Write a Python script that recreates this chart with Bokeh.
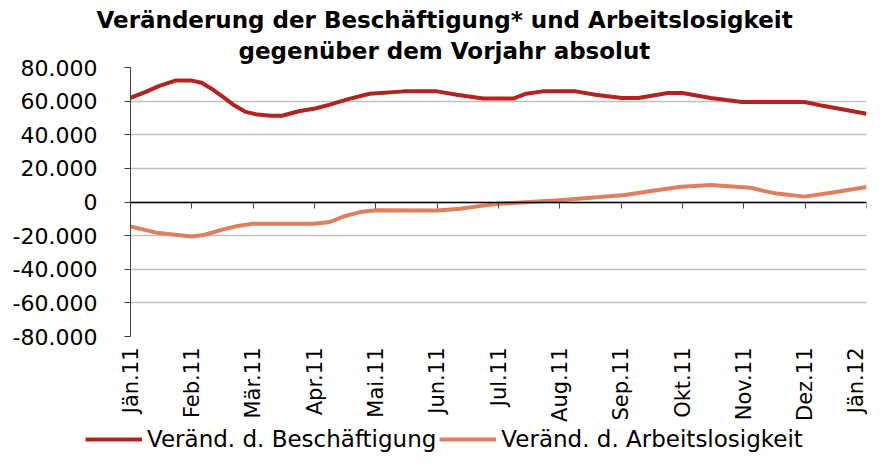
import math
from bokeh.plotting import figure
from bokeh.layouts import column
from bokeh.models import Range1d, FixedTicker, LinearAxis, Legend, LegendItem, Title
from bokeh.embed import file_html
from bokeh.resources import INLINE

# ---- data ----
month_ticks = list(range(13))
month_labels = ["Jän.11", "Feb.11", "Mär.11", "Apr.11", "Mai.11", "Jun.11", "Jul.11",
                "Aug.11", "Sep.11", "Okt.11", "Nov.11", "Dez.11", "Jän.12"]

y_ticks = [-80000, -60000, -40000, -20000, 0, 20000, 40000, 60000, 80000]
y_tick_labels = ["-80.000", "-60.000", "-40.000", "-20.000", "0",
                 "20.000", "40.000", "60.000", "80.000"]

# position in months since Jan 2011
besch_x = [0.0, 0.24, 0.46, 0.73, 1.0, 1.16, 1.32, 1.53, 1.69, 1.88, 2.07, 2.29, 2.47,
           2.74, 3.01, 3.25, 3.58, 3.90, 4.46, 5.0, 5.32, 5.75, 6.24, 6.45, 6.72, 7.26,
           7.58, 8.01, 8.28, 8.76, 9.0, 9.46, 9.97, 10.99, 11.29, 12.0]
besch_y = [62000, 65400, 68900, 72200, 72200, 70900, 67400, 61900, 57500, 53600, 52000,
           51300, 51300, 54000, 55600, 57900, 61500, 64400, 65800, 65800, 63800, 61500,
           61500, 64400, 65800, 65800, 63800, 61900, 61900, 64800, 64800, 61900, 59500,
           59500, 57200, 52500]

alo_x = [0.0, 0.46, 1.0, 1.21, 1.48, 1.75, 1.99, 2.98, 3.25, 3.50, 3.74, 4.0, 5.0, 5.38,
         5.65, 6.0, 6.99, 8.06, 8.49, 8.98, 9.46, 10.11, 10.32, 10.54, 10.99, 11.5, 12.0]
alo_y = [-14600, -18500, -20500, -19500, -16600, -14200, -13000, -13000, -11900, -8300,
         -6000, -4900, -5000, -4000, -2600, -1000, 1100, 4200, 6600, 9100, 10100, 8500,
         6600, 5000, 3200, 6000, 8900]

legend_labels = ["Veränd. d. Beschäftigung", "Veränd. d. Arbeitslosigkeit"]

RED = "#B3241E"
ORANGE = "#E07F5E"
FONT = "DejaVu Sans"

p = figure(width=867, height=424, output_backend="svg", toolbar_location=None, title=None,
           x_range=Range1d(0, 12), y_range=Range1d(-80000, 80000),
           min_border_left=130, min_border_right=1, min_border_bottom=80, min_border_top=67)
p.outline_line_color = None
p.background_fill_color = "white"
p.frame_align = False

# titles (second line added first -> closest to plot)
t2 = Title(text="gegenüber dem  Vorjahr absolut", align="left", offset=108,
           text_font=FONT, text_font_size="23px", text_font_style="bold",
           text_color="black", standoff=7)
p.add_layout(t2, "above")
t1 = Title(text="Veränderung der Beschäftigung* und Arbeitslosigkeit", align="left",
           offset=-34, text_font=FONT, text_font_size="23px", text_font_style="bold",
           text_color="black", standoff=0)
p.add_layout(t1, "above")

# y axis
p.yaxis.ticker = FixedTicker(ticks=y_ticks)
p.yaxis.major_label_overrides = dict(zip(y_ticks, y_tick_labels))
p.yaxis.major_tick_out = 6
p.yaxis.major_tick_in = 0
p.yaxis.minor_tick_line_color = None
p.yaxis.major_label_standoff = 27
p.yaxis.axis_line_color = "#404040"
p.yaxis.major_tick_line_color = "#404040"
p.yaxis.major_label_text_font = FONT
p.yaxis.major_label_text_font_size = "22px"
p.yaxis.major_label_text_color = "black"

p.ygrid.grid_line_color = "#C0C0C0"
p.ygrid.grid_line_width = 1.3
p.xgrid.visible = False

# zero line axis with ticks (no labels)
p.xaxis.fixed_location = 0
p.xaxis.ticker = FixedTicker(ticks=month_ticks)
p.xaxis.major_label_overrides = {t: "" for t in month_ticks}
p.xaxis.major_label_standoff = 0
p.xaxis.major_tick_out = 6
p.xaxis.major_tick_in = 0
p.xaxis.minor_tick_line_color = None
p.xaxis.axis_line_color = "black"
p.xaxis.axis_line_width = 1.5
p.xaxis.major_tick_line_color = "#404040"

# label axis at bottom
lab_axis = LinearAxis(ticker=FixedTicker(ticks=month_ticks),
                      major_label_overrides=dict(zip(month_ticks, month_labels)),
                      axis_line_color=None, major_tick_line_color=None,
                      minor_tick_line_color=None, major_label_orientation=math.pi / 2,
                      major_label_standoff=5, major_label_text_font=FONT,
                      major_label_text_font_size="21px", major_label_text_color="black")
p.add_layout(lab_axis, "below")

p.line(besch_x, besch_y, line_color=RED, line_width=4, line_join="round")
p.line(alo_x, alo_y, line_color=ORANGE, line_width=4, line_join="round")

# legend strip below the chart (its lines lie outside the strip's visible range)
pl = figure(width=867, height=28, output_backend="svg", toolbar_location=None, title=None,
            x_range=Range1d(-20, -19), y_range=Range1d(0, 1),
            min_border_left=85, min_border_right=0, min_border_top=0, min_border_bottom=0,
            x_axis_location=None, y_axis_location=None)
pl.outline_line_color = None
pl.xgrid.visible = False
pl.ygrid.visible = False
pl.frame_align = False
k1 = pl.line(besch_x, besch_y, line_color=RED, line_width=4)
k2 = pl.line(alo_x, alo_y, line_color=ORANGE, line_width=4)
legend = Legend(items=[LegendItem(label=legend_labels[0], renderers=[k1]),
                       LegendItem(label=legend_labels[1], renderers=[k2])],
                orientation="horizontal", location="bottom_left", padding=0, margin=0,
                border_line_color=None, background_fill_alpha=0, glyph_width=57,
                glyph_height=20, label_standoff=5, spacing=3, label_text_font=FONT,
                label_text_font_size="23px", label_text_color="black")
pl.add_layout(legend, "center")

page = column(p, pl, spacing=0)
open("out.html", "w").write(file_html(page, INLINE))
